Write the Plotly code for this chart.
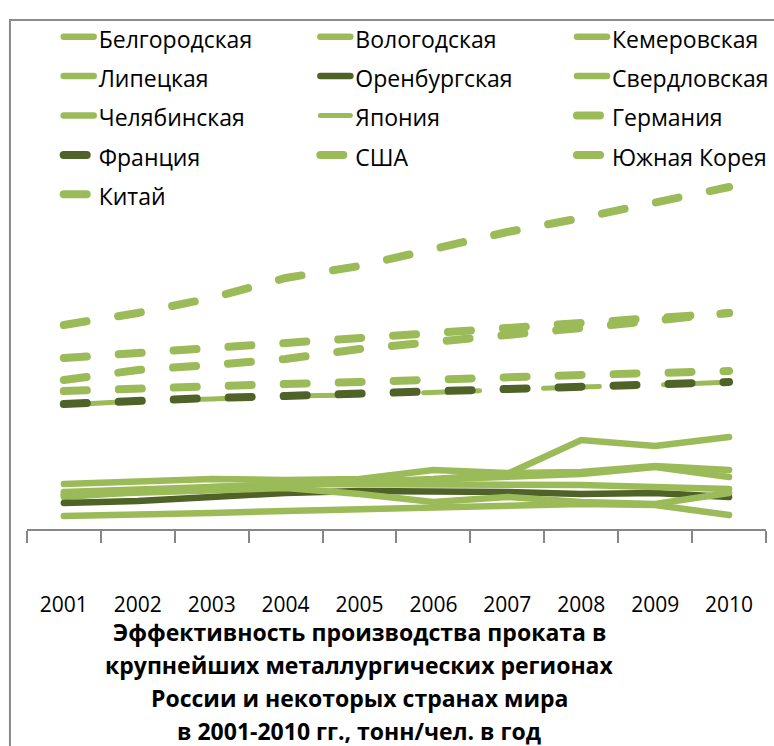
import plotly.graph_objects as go

# Years on the category axis
years = ["2001", "2002", "2003", "2004", "2005", "2006", "2007", "2008", "2009", "2010"]

# Russian regions (solid lines), tonnes per person per year
belgorod = [0.35, 0.38, 0.41, 0.43, 0.46, 0.50, 0.55, 0.89, 0.83, 0.92]
vologda = [0.45, 0.47, 0.50, 0.49, 0.50, 0.59, 0.56, 0.57, 0.63, 0.59]
kemerovo = [0.32, 0.37, 0.42, 0.44, 0.47, 0.49, 0.53, 0.55, 0.62, 0.52]
lipetsk = [0.13, 0.14, 0.16, 0.18, 0.20, 0.21, 0.23, 0.25, 0.24, 0.14]
orenburg = [0.26, 0.28, 0.32, 0.36, 0.38, 0.38, 0.37, 0.35, 0.36, 0.32]
sverdlovsk = [0.34, 0.36, 0.39, 0.41, 0.35, 0.27, 0.32, 0.27, 0.25, 0.36]
chelyabinsk = [0.37, 0.39, 0.42, 0.45, 0.45, 0.45, 0.44, 0.44, 0.42, 0.40]

# Countries (dashed lines)
japan = [1.24, 1.28, 1.30, 1.33, 1.34, 1.37, 1.39, 1.42, 1.44, 1.47]
germany = [1.49, 1.59, 1.64, 1.70, 1.80, 1.86, 1.94, 2.01, 2.08, 2.16]
france = [1.25, 1.29, 1.31, 1.33, 1.35, 1.37, 1.40, 1.42, 1.44, 1.47]
usa = [1.38, 1.41, 1.43, 1.45, 1.47, 1.50, 1.52, 1.54, 1.56, 1.58]
korea = [1.71, 1.76, 1.81, 1.86, 1.91, 1.96, 2.01, 2.06, 2.11, 2.16]
china = [2.04, 2.16, 2.31, 2.51, 2.63, 2.81, 2.97, 3.11, 3.26, 3.42]

title_lines = [
    "Эффективность производства проката в",
    "крупнейших металлургических регионах",
    "России и некоторых странах мира",
    "в 2001-2010 гг., тонн/чел. в год",
]

LIGHT = "#9BBB59"
DARK = "#4F6228"
FONT = "Open Sans, Roboto, sans-serif"

# name, values, colour, width, dash, legend column
series = [
    ("Белгородская", belgorod, LIGHT, 6.5, "solid", "legend"),
    ("Вологодская", vologda, LIGHT, 6.5, "solid", "legend2"),
    ("Кемеровская", kemerovo, LIGHT, 6.5, "solid", "legend3"),
    ("Липецкая", lipetsk, LIGHT, 6.5, "solid", "legend"),
    ("Оренбургская", orenburg, DARK, 6.5, "solid", "legend2"),
    ("Свердловская", sverdlovsk, LIGHT, 6.5, "solid", "legend3"),
    ("Челябинская", chelyabinsk, LIGHT, 6.5, "solid", "legend"),
    ("Япония", japan, LIGHT, 5, "56px,64px", "legend2"),
    ("Германия", germany, LIGHT, 8, "23px,32px", "legend3"),
    ("Франция", france, DARK, 8, "23px,32px", "legend"),
    ("США", usa, LIGHT, 8, "23px,32px", "legend2"),
    ("Южная Корея", korea, LIGHT, 8, "23px,32px", "legend3"),
    ("Китай", china, LIGHT, 8, "23px,32px", "legend"),
]

fig = go.Figure()
for name, vals, color, width, dash, leg in series:
    fig.add_trace(go.Scatter(x=years, y=vals, mode="lines", legend=leg,
                             name='<span style="font-size:23px">' + name + '</span>',
                             line=dict(color=color, width=width, dash=dash)))

# figure in pixels; plot area x 27..770, y 169..529
W, H = 774, 746
T, B = 169, 217
ph = H - T - B


def px_x(x):
    return x / W


def px_y(y):
    return (H - B - y) / ph


annotations = []
for i, line in enumerate(title_lines):
    annotations.append(dict(text="<b>" + line + "</b>", x=px_x(361), y=px_y(632 + i * 33),
                            xref="paper", yref="paper", showarrow=False,
                            xanchor="center", yanchor="middle",
                            font=dict(family=FONT, size=23, color="black")))

# chart frame as an empty bordered box starting at (10, 20); right and bottom run off the page
annotations.append(dict(text=" ", x=px_x(9), y=px_y(19), xref="paper", yref="paper",
                        showarrow=False, xanchor="left", yanchor="top",
                        width=800, height=760, borderpad=0,
                        bordercolor="#8c8c8c", borderwidth=2))


def legend_col(x):
    return dict(orientation="v", x=px_x(x), y=px_y(12), xanchor="left", yanchor="top",
                bgcolor="rgba(0,0,0,0)", font=dict(family=FONT, size=28),
                traceorder="normal")


frame_line = dict(color="#8c8c8c", width=2)
shapes = [
    dict(type="line", xref="paper", yref="paper",
         x0=px_x(10), x1=px_x(10), y0=px_y(20), y1=px_y(760), line=frame_line),
]

fig.update_layout(
    width=W, height=H,
    margin=dict(l=0, r=0, t=T, b=B),
    paper_bgcolor="white", plot_bgcolor="white",
    font=dict(family=FONT, size=21, color="black"),
    showlegend=True,
    legend=legend_col(59),
    legend2=legend_col(317),
    legend3=legend_col(575),
    xaxis=dict(type="category", domain=[27 / W, 770 / W], range=[-0.5, 9.5],
               showgrid=False, showline=True, linecolor="#868686", linewidth=1.5,
               ticks="outside", tickson="boundaries", ticklen=12, tickcolor="#868686",
               tickwidth=1.5, ticklabelstandoff=56, tickfont=dict(size=21)),
    yaxis=dict(range=[0, 3.6], visible=False),
    annotations=annotations,
    shapes=shapes,
)

# round the dash ends like the original, and drop the default page margin
js = ("document.body.style.margin='0';"
      "document.querySelectorAll('.scatterlayer path.js-line, .legendlines path')"
      ".forEach(function(p){p.style.strokeLinecap='round';});")
fig.write_html("out.html", post_script=js, config={"displayModeBar": False})
